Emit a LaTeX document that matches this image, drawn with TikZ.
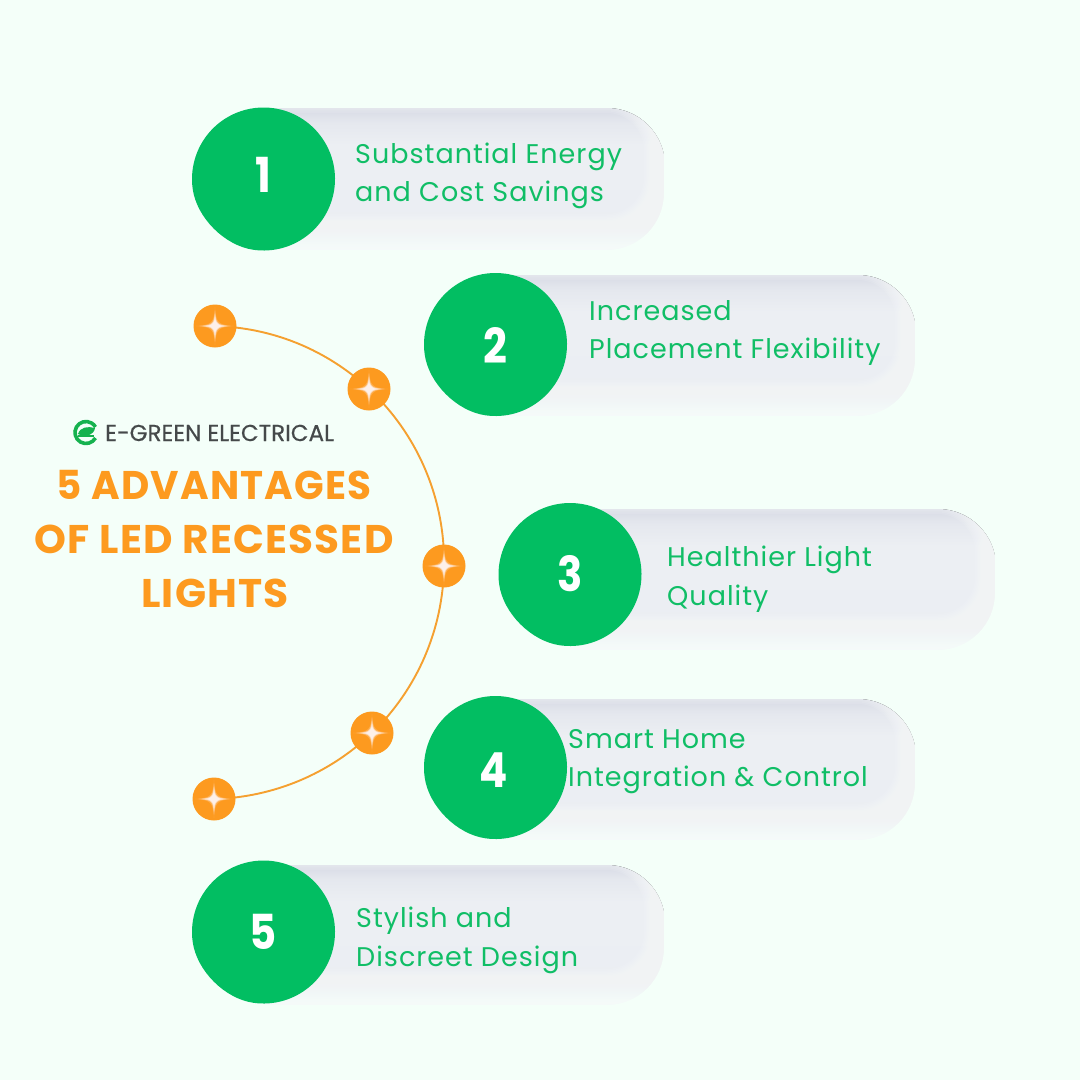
\documentclass[tikz,border=0pt]{standalone}
\usepackage{fontspec}
\setmainfont{Poppins}
\newfontfamily\bodyfont[LetterSpace=3.7]{Poppins}
\newfontfamily\titlefont[LetterSpace=3]{Poppins}
\newfontfamily\logofont[FakeBold=0.5]{Poppins}
\definecolor{bgc}{HTML}{F4FFF9}
\definecolor{greenc}{HTML}{02BE62}
\definecolor{textg}{HTML}{10BE66}
\definecolor{orangec}{HTML}{FD9A1F}
\definecolor{arcc}{HTML}{F5A030}
\definecolor{pillmid}{HTML}{ECEFF3}
\definecolor{pilllight}{HTML}{F6FDFA}
\definecolor{pillglow}{HTML}{F8FAFB}
\definecolor{pilltop}{HTML}{D7DAE5}
\definecolor{logoink}{HTML}{45494A}
\definecolor{logog}{HTML}{16B24F}
\definecolor{starc}{HTML}{FDF0EA}
\pgfdeclareverticalshading{pillshadeb}{100bp}{
  color(0bp)=(pilllight);
  color(25bp)=(pilllight);
  color(30bp)=(pilllight!50!pillmid);
  color(36bp)=(pillmid!96!pilltop);
  color(62bp)=(pillmid);
  color(70bp)=(pilltop!35!pillmid);
  color(75bp)=(pilltop);
  color(100bp)=(pilltop)}
\newcommand{\starshape}[1]{%
  (0,#1) .. controls (0.06*#1,0.16*#1) and (0.16*#1,0.06*#1) .. (#1,0)
  .. controls (0.16*#1,-0.06*#1) and (0.06*#1,-0.16*#1) .. (0,-#1)
  .. controls (-0.06*#1,-0.16*#1) and (-0.16*#1,-0.06*#1) .. (-#1,0)
  .. controls (-0.16*#1,0.06*#1) and (-0.06*#1,0.16*#1) .. (0,#1) -- cycle}
\newcommand{\pillpath}[4]{%
  (#1,-#2) -- ({#3-58},-#2) arc[start angle=90,end angle=0,radius=58]
  -- (#3,{-#4+58}) arc[start angle=0,end angle=-90,radius=58] -- (#1,-#4) -- cycle}
\newcommand{\pillbar}[4]{%
  \fill[shading=pillshadeb] \pillpath{#1}{#2}{#3}{#4};
  \begin{scope}
    \clip \pillpath{#1}{#2}{#3}{#4};
    \foreach \w in {3,6,...,42}{
      \begin{scope}[yshift=16pt]
        \draw[pillglow,opacity=.14,line width=\w pt] \pillpath{#1}{#2}{#3}{#4};
      \end{scope}}
  \end{scope}
  \draw[bgc,line width=2pt] ({#3},{-#2-36}) -- (#3,{-#4+58}) arc[start angle=0,end angle=-90,radius=58] -- (#1,-#4);}
\newcommand{\badge}[3]{%
  \node[badgebox] (#1) at (#2,-#3) {};
  \fill[greenc,shift={(#1.center)}] (-70.8,-9.95) .. controls (-66.8,-38.7) and (-38.7,-66.8) .. (-9.95,-70.8)
    arc[start angle=262,delta angle=286,radius=71.5] -- cycle;}
\tikzset{
  x=1pt,y=1pt,
  badgebox/.style={circle,minimum size=143pt,inner sep=0pt},
  numeral/.style={text=white,font=\fontsize{38}{38}\selectfont\bfseries,inner sep=0pt},
  label/.style={text=textg,font=\bodyfont\fontsize{27}{38.3}\selectfont,align=left,anchor=base west,inner sep=0pt},
  headline/.style={text=orangec,font=\titlefont\fontsize{40}{54}\selectfont\bfseries,anchor=base,inner sep=0pt},
  marker/.style={circle,fill=orangec,minimum size=43pt,inner sep=0pt,
    path picture={
      \fill[starc,opacity=.22,shift={(path picture bounding box.center)}] \starshape{19};
      \fill[starc,opacity=.6,shift={(path picture bounding box.center)}] \starshape{15};
      \fill[starc,shift={(path picture bounding box.center)}] \starshape{11};
      \fill[starc,shift={(path picture bounding box.center)}] (0,0) circle (3.6);}},
  link/.style={arcc,line width=1.9pt},
}
\begin{document}
\begin{tikzpicture}
\useasboundingbox (0,0) rectangle (1080,-1080);
\fill[bgc] (0,0) rectangle (1080,-1080);
% pills
\pillbar{264}{108}{665}{251}
\pillbar{496}{275}{916}{417}
\pillbar{570}{509}{996}{651}
\pillbar{496}{699}{916}{841}
\pillbar{264}{865}{665}{1006}
% badges
\badge{b1}{263.5}{179}
\badge{b2}{495.5}{344.5}
\badge{b3}{570}{574.5}
\badge{b4}{495.5}{767.5}
\badge{b5}{263.5}{932}
\node[numeral] (n1) at (263,-175) {\scalebox{1.1}[1.27]{1}};
\node[numeral] (n2) at (495,-345) {\scalebox{1.1}[1.27]{2}};
\node[numeral] (n3) at (570,-574) {\scalebox{1.1}[1.27]{3}};
\node[numeral] (n4) at (494,-770) {\scalebox{1.1}[1.27]{4}};
\node[numeral] (n5) at (263,-932) {\scalebox{1.1}[1.27]{5}};
% labels
\node[label] (t1) at (355,-201.5) {Substantial Energy\\and Cost Savings};
\node[label] (t2) at (589,-358.5) {Increased\\Placement Flexibility};
\node[label] (t3) at (667,-605) {Healthier Light\\Quality};
\node[label] (t4) at (568,-786.5) {Smart Home\\Integration \& Control};
\node[label] (t5) at (356,-966) {Stylish and\\Discreet Design};
% arc
\coordinate (c1) at (215,-326);
\coordinate (c2) at (369,-389);
\coordinate (c3) at (444,-566);
\coordinate (c4) at (372,-733);
\coordinate (c5) at (214,-799);
\draw[link] (c1) to[bend left=20.5,looseness=.89] (c2);
\draw[link] (c2) to[bend left=24,looseness=.89] (c3);
\draw[link] (c3) to[bend left=22.5,looseness=.89] (c4);
\draw[link] (c4) to[bend left=21,looseness=.89] (c5);
\node[marker] (m1) at (c1) {};
\node[marker] (m2) at (c2) {};
\node[marker] (m3) at (c3) {};
\node[marker] (m4) at (c4) {};
\node[marker] (m5) at (c5) {};
% title
\node[headline] (h1) at (214,-499.5) {\scalebox{.972}[1]{5 ADVANTAGES}};
\node[headline] (h2) at (214,-553.5) {\scalebox{1.014}[1]{OF LED RECESSED}};
\node[headline] (h3) at (215,-607.5) {\scalebox{1.02}[1]{LIGHTS}};
% logo
\coordinate (lc) at (86,-433);
\draw[logog,line width=3.6pt] (95.5,-438) arc[start angle=-30,end angle=-330,radius=11];
\fill[logog] (78,-434) .. controls (80,-427) and (88,-426) .. (95,-428) .. controls (94,-435) and (86,-438) .. (78,-434) -- cycle;
\fill[logog] (78,-434.5) rectangle (94,-436.5);
\node[anchor=base west,inner sep=0pt,text=logoink,font=\logofont\fontsize{23}{23}\selectfont] (lg) at (105,-441) {E-GREEN ELECTRICAL};
\end{tikzpicture}
\end{document}
